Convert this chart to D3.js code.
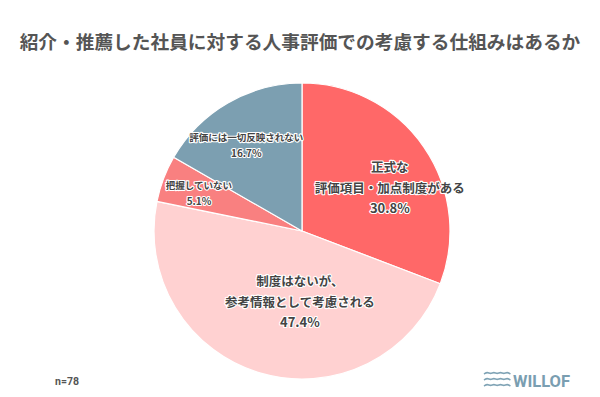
<!DOCTYPE html>
<html>
<head>
<meta charset="utf-8">
<script src="https://cdn.jsdelivr.net/npm/d3@7"></script>
<style>
  body { margin: 0; background: #fff; }
  svg { display: block; font-family: "Noto Sans CJK JP", "Noto Sans", sans-serif; }
</style>
</head>
<body>
<svg id="chart"></svg>
<script>
// Chart data
const title = "紹介・推薦した社員に対する人事評価での考慮する仕組みはあるか";
const categories = [
  ["正式な", "評価項目・加点制度がある"],
  ["制度はないが、", "参考情報として考慮される"],
  ["把握していない"],
  ["評価には一切反映されない"]
];
const values = [30.8, 47.4, 5.1, 16.7];
const sampleNote = "n=78";

// Styling
const colors = ["#ff6868", "#ffd1d1", "#f98080", "#7c9fb1"];
const labelSize = [12.5, 12.5, 9.5, 9.5];
// label placement: fraction of radius and angle shift (degrees) from slice middle
const labelPlace = [[0.66, 8.6], [0.48, -14.5], [0.74, -0.9], [0.69, -3]];

const width = 600;
const height = 397;
const cx = 302, cy = 231, radius = 148;

const svg = d3.select("#chart")
  .attr("width", width)
  .attr("height", height);

// Title
svg.append("text")
  .attr("x", width / 2)
  .attr("y", 49)
  .attr("text-anchor", "middle")
  .attr("font-size", 18.7)
  .attr("font-weight", "bold")
  .attr("fill", "#555")
  .text(title);

// Pie
const pie = d3.pie().sort(null).value(d => d);
const arcs = pie(values);
const arc = d3.arc().innerRadius(0).outerRadius(radius);

const g = svg.append("g").attr("transform", `translate(${cx},${cy})`);

g.selectAll(".slice")
  .data(arcs)
  .enter()
  .append("path")
  .attr("class", "slice")
  .attr("d", arc)
  .attr("fill", (d, i) => colors[i])
  .attr("stroke", "#fff")
  .attr("stroke-width", 1.2);

// Labels
arcs.forEach((d, i) => {
  const [k, shift] = labelPlace[i];
  const a = (d.startAngle + d.endAngle) / 2 + shift * Math.PI / 180;
  const x = Math.sin(a) * radius * k;
  const y = -Math.cos(a) * radius * k;
  const lines = categories[i].concat([values[i].toFixed(1) + "%"]);
  const fs = labelSize[i];
  const lh = fs * 1.65;
  const t = g.append("text")
    .attr("text-anchor", "middle")
    .attr("font-size", fs)
    .attr("font-weight", "bold")
    .attr("fill", "#444")
    .attr("stroke", "#fff")
    .attr("stroke-width", 2.2)
    .attr("stroke-linejoin", "round")
    .attr("paint-order", "stroke");
  lines.forEach((ln, j) => {
    t.append("tspan")
      .attr("x", x)
      .attr("y", y + (j - (lines.length - 1) / 2) * lh + fs * 0.36)
      .attr("font-size", j === lines.length - 1 ? fs + 0.5 : fs)
      .text(ln);
  });
});

// Sample size
svg.append("text")
  .attr("x", 55)
  .attr("y", 385)
  .attr("font-size", 10.5)
  .attr("font-weight", "bold")
  .attr("fill", "#555")
  .attr("font-family", "Roboto, sans-serif")
  .text(sampleNote);

// WILLOF logo
const logo = svg.append("g").attr("transform", "translate(484,372)");
const wave = d3.line().curve(d3.curveBasis);
[0, 6, 12].forEach(dy => {
  const pts = d3.range(0, 9).map(j => [j * 3.3, dy + (j % 2 === 0 ? 2 : 0)]);
  logo.append("path")
    .attr("d", wave(pts))
    .attr("fill", "none")
    .attr("stroke", "#7fa3b5")
    .attr("stroke-width", 1.6);
});
logo.append("text")
  .attr("x", 29)
  .attr("y", 15)
  .attr("font-size", 16.5)
  .attr("font-weight", "bold")
  .attr("fill", "#7a9eb1")
  .attr("font-family", "Roboto, 'Open Sans', sans-serif")
  .text("WILLOF");
</script>
</body>
</html>
